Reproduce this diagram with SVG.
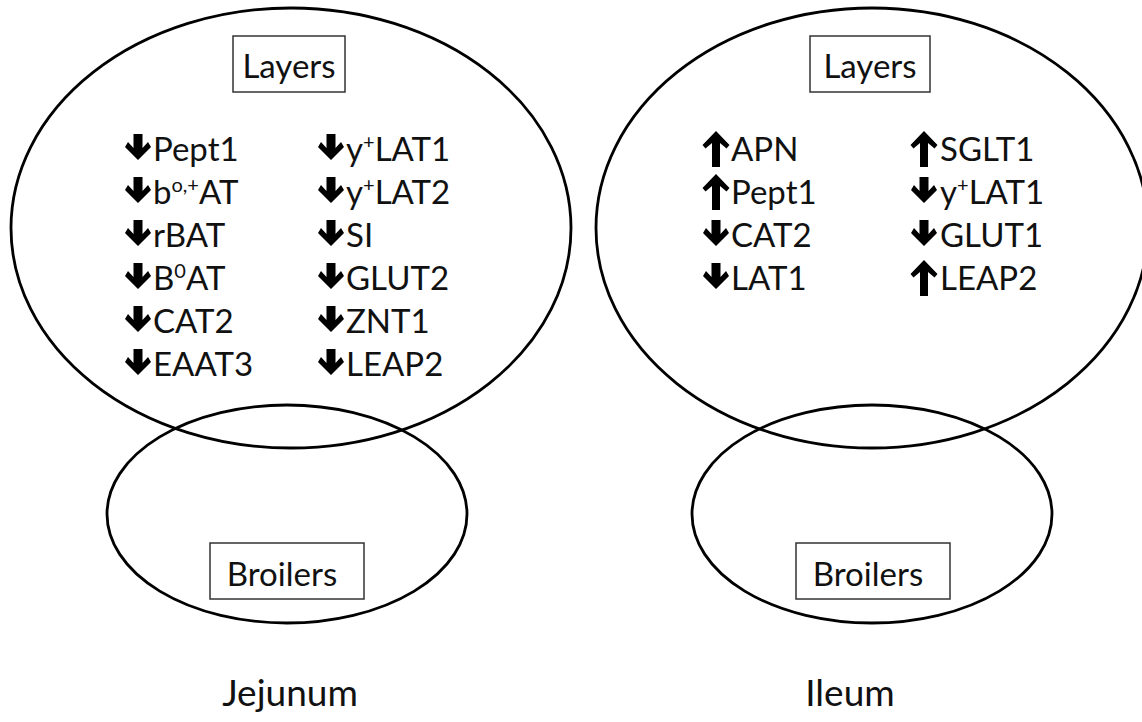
<svg xmlns="http://www.w3.org/2000/svg" width="1142" height="722" viewBox="0 0 1142 722">
<style>
.ell{fill:none;stroke:#000;stroke-width:2.8}
.box{fill:#fff;stroke:#333;stroke-width:1.5}
.t{font-family:Lato,"Open Sans","Liberation Sans",sans-serif;font-size:33px;fill:#111}
.lbl{font-family:Lato,"Open Sans","Liberation Sans",sans-serif;font-size:33px;fill:#111;text-anchor:middle}
.title{font-family:Lato,"Open Sans","Liberation Sans",sans-serif;font-size:37px;fill:#111;text-anchor:middle}
.sup{font-size:20px}
.ar{fill:#000}
</style>
<defs>
<path id="dn" d="M-4.5,-25 L4.5,-25 L4.5,-11 L10,-17 L13,-12 L0,1 L-13,-12 L-10,-17 L-4.5,-11 Z"/>
<path id="up" d="M0,-28 L13.5,-14 L10.5,-10.5 L4,-16 L4,8 L-4,8 L-4,-16 L-10.5,-10.5 L-13.5,-14 Z"/>
</defs>
<g id="connectors"></g>

<g id="jejunum">
  <g id="jej-layers-set">
    <ellipse class="ell" cx="291" cy="228" rx="280" ry="220"/>
  </g>
  <g id="jej-broilers-set">
    <ellipse class="ell" cx="287" cy="514" rx="180" ry="109"/>
  </g>
  <g id="jej-layers-label">
    <rect class="box" x="233" y="36" width="112" height="56"/>
    <text class="lbl" x="289" y="78">Layers</text>
  </g>
  <g id="jej-broilers-label">
    <rect class="box" x="210" y="543" width="154" height="56"/>
    <text class="lbl" x="282" y="586">Broilers</text>
  </g>
  <g id="jej-genes">
    <use href="#dn" class="ar" x="138" y="159"/><text class="t" x="153" y="161">Pept1</text>
    <use href="#dn" class="ar" x="138" y="202"/><text class="t" x="153" y="204">b<tspan class="sup" dy="-12">o,+</tspan><tspan dy="12">AT</tspan></text>
    <use href="#dn" class="ar" x="138" y="245"/><text class="t" x="153" y="247">rBAT</text>
    <use href="#dn" class="ar" x="138" y="288"/><text class="t" x="153" y="290">B<tspan class="sup" dy="-12">0</tspan><tspan dy="12">AT</tspan></text>
    <use href="#dn" class="ar" x="138" y="331"/><text class="t" x="153" y="333">CAT2</text>
    <use href="#dn" class="ar" x="138" y="374"/><text class="t" x="153" y="376">EAAT3</text>

    <use href="#dn" class="ar" x="331" y="159"/><text class="t" x="346" y="161">y<tspan class="sup" dy="-12">+</tspan><tspan dy="12">LAT1</tspan></text>
    <use href="#dn" class="ar" x="331" y="202"/><text class="t" x="346" y="204">y<tspan class="sup" dy="-12">+</tspan><tspan dy="12">LAT2</tspan></text>
    <use href="#dn" class="ar" x="331" y="245"/><text class="t" x="346" y="247">SI</text>
    <use href="#dn" class="ar" x="331" y="288"/><text class="t" x="346" y="290">GLUT2</text>
    <use href="#dn" class="ar" x="331" y="331"/><text class="t" x="346" y="333">ZNT1</text>
    <use href="#dn" class="ar" x="331" y="374"/><text class="t" x="346" y="376">LEAP2</text>
  </g>
  <text id="jej-title" class="title" x="290" y="706">Jejunum</text>
</g>

<g id="ileum">
  <g id="ile-layers-set">
    <ellipse class="ell" cx="872" cy="228" rx="276" ry="220"/>
  </g>
  <g id="ile-broilers-set">
    <ellipse class="ell" cx="872" cy="514" rx="180" ry="109"/>
  </g>
  <g id="ile-layers-label">
    <rect class="box" x="810" y="36" width="120" height="56"/>
    <text class="lbl" x="870" y="78">Layers</text>
  </g>
  <g id="ile-broilers-label">
    <rect class="box" x="796" y="543" width="154" height="56"/>
    <text class="lbl" x="868" y="586">Broilers</text>
  </g>
  <g id="ile-genes">
    <use href="#up" class="ar" x="716" y="159"/><text class="t" x="731" y="161">APN</text>
    <use href="#up" class="ar" x="716" y="202"/><text class="t" x="731" y="204">Pept1</text>
    <use href="#dn" class="ar" x="716" y="245"/><text class="t" x="731" y="247">CAT2</text>
    <use href="#dn" class="ar" x="716" y="288"/><text class="t" x="731" y="290">LAT1</text>

    <use href="#up" class="ar" x="924" y="159"/><text class="t" x="940" y="161">SGLT1</text>
    <use href="#dn" class="ar" x="924" y="202"/><text class="t" x="940" y="204">y<tspan class="sup" dy="-12">+</tspan><tspan dy="12">LAT1</tspan></text>
    <use href="#dn" class="ar" x="924" y="245"/><text class="t" x="940" y="247">GLUT1</text>
    <use href="#up" class="ar" x="924" y="288"/><text class="t" x="940" y="290">LEAP2</text>
  </g>
  <text id="ile-title" class="title" x="850" y="706">Ileum</text>
</g>
</svg>
